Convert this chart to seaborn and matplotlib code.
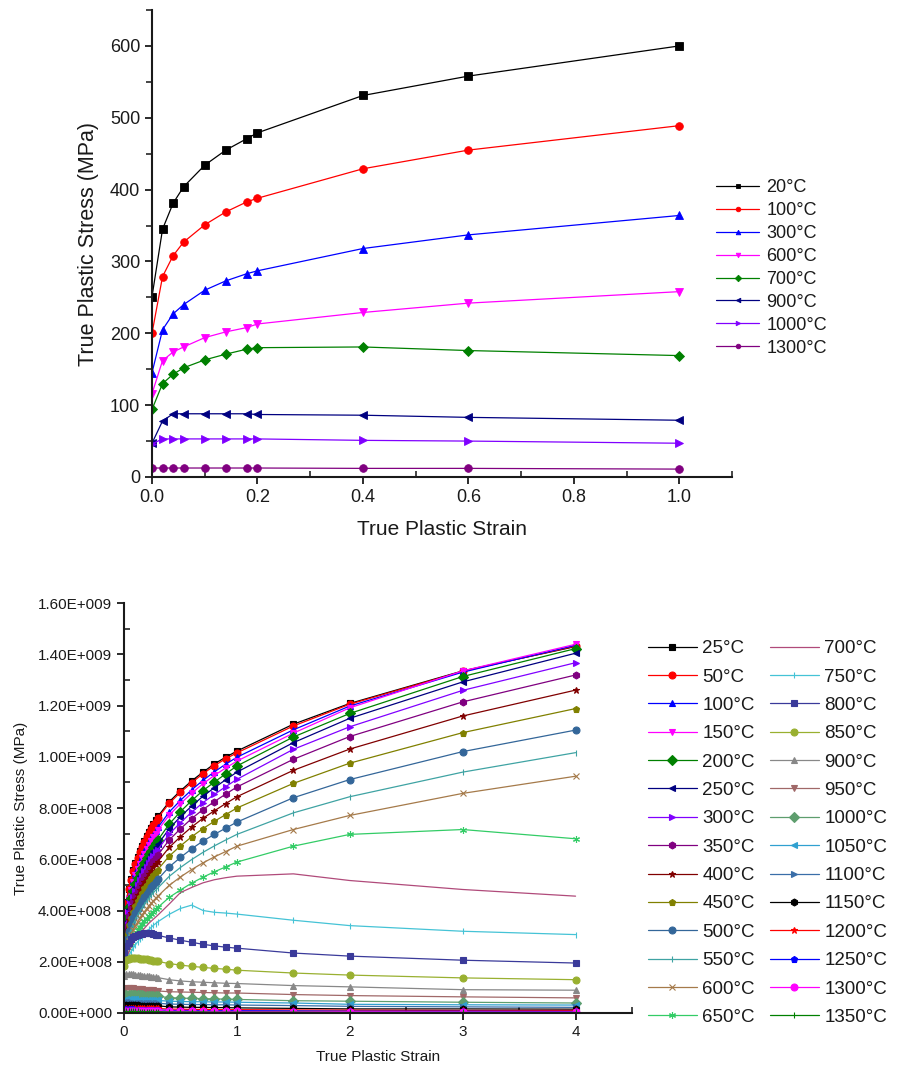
import numpy as np
import pandas as pd
import matplotlib
matplotlib.use("Agg")
import matplotlib.pyplot as plt
import seaborn as sns
from matplotlib.ticker import MultipleLocator, FuncFormatter, FormatStrFormatter

sns.set_theme(style="ticks")
plt.rcParams['font.family'] = ['Liberation Sans', 'DejaVu Sans']

# ---------------- top chart data ----------------
strain_top = [0, 0.02, 0.04, 0.06, 0.1, 0.14, 0.18, 0.2, 0.4, 0.6, 1.0]
labels_top = ["20°C", "100°C", "300°C", "600°C", "700°C", "900°C", "1000°C", "1300°C"]
t20 = [251, 345, 381, 404, 434, 455, 471, 479, 531, 558, 600]
t100 = [200, 279, 308, 327, 351, 369, 383, 388, 429, 455, 489]
t300 = [145, 205, 227, 240, 260, 273, 283, 287, 318, 337, 364]
t600 = [116, 162, 174, 181, 194, 202, 208, 213, 229, 242, 258]
t700 = [94, 130, 143, 152, 163, 171, 178, 180, 181, 176, 169]
t900 = [47, 78, 88, 88, 88, 88, 88, 87, 86, 83, 79]
t1000 = [46, 53, 53, 53, 53, 53, 53, 53, 51, 50, 47]
t1300 = [12.5, 12.5, 12.5, 12.5, 12.5, 12.5, 12.5, 12.5, 12, 12, 11]
colors_top = ["#000000", "#FF0000", "#0000FF", "#FF00FF", "#008000", "#000080", "#8000FF", "#800080"]
markers_top = ["s", "o", "^", "v", "D", "<", ">", "o"]

# ---------------- bottom chart data (stress in 1e8) ----------------
strain_bot = [0, 0.02, 0.04, 0.06, 0.08, 0.1, 0.12, 0.14, 0.16, 0.18, 0.2, 0.22, 0.24, 0.26,
              0.28, 0.3, 0.4, 0.5, 0.6, 0.7, 0.8, 0.9, 1.0, 1.5, 2, 3, 4]
labels_bot = ["25°C", "50°C", "100°C", "150°C", "200°C", "250°C", "300°C", "350°C", "400°C",
              "450°C", "500°C", "550°C", "600°C", "650°C", "700°C", "750°C", "800°C", "850°C",
              "900°C", "950°C", "1000°C", "1050°C", "1100°C", "1150°C", "1200°C", "1250°C",
              "1300°C", "1350°C"]
b25 = [3.58,4.34,4.85,5.23,5.57,5.85,6.10,6.33,6.53,6.71,6.90,7.07,7.23,7.38,7.52,7.67,8.24,8.67,9.06,9.40,9.72,9.98,10.22,11.27,12.08,13.35,14.30]
b50 = [3.55,4.31,4.82,5.20,5.53,5.81,6.06,6.28,6.49,6.67,6.85,7.02,7.18,7.33,7.47,7.61,8.18,8.61,8.99,9.34,9.65,9.92,10.15,11.20,12.05,13.33,14.32]
b100 = [3.34,4.02,4.52,4.88,5.19,5.46,5.70,5.92,6.12,6.31,6.49,6.66,6.81,6.96,7.10,7.24,7.84,8.30,8.71,9.08,9.41,9.71,9.98,11.05,11.98,13.30,14.35]
b150 = [3.29,3.96,4.45,4.80,5.11,5.38,5.62,5.83,6.03,6.21,6.39,6.56,6.71,6.86,6.99,7.13,7.72,8.17,8.58,8.95,9.27,9.56,9.83,10.92,11.91,13.35,14.39]
b200 = [3.08,3.66,4.15,4.48,4.77,5.03,5.26,5.48,5.67,5.85,6.03,6.19,6.34,6.49,6.62,6.75,7.37,7.86,8.29,8.68,9.01,9.33,9.64,10.77,11.69,13.13,14.22]
b250 = [3.01,3.57,4.04,4.37,4.65,4.91,5.13,5.34,5.53,5.71,5.88,6.03,6.19,6.33,6.46,6.58,7.19,7.66,8.08,8.46,8.79,9.10,9.40,10.55,11.50,12.92,14.04]
b300 = [2.92,3.47,3.92,4.24,4.51,4.76,4.98,5.18,5.36,5.54,5.70,5.85,6.00,6.14,6.27,6.38,6.98,7.43,7.84,8.21,8.53,8.83,9.12,10.29,11.17,12.59,13.67]
b350 = [2.82,3.35,3.79,4.10,4.37,4.60,4.82,5.01,5.19,5.35,5.51,5.66,5.80,5.94,6.06,6.17,6.75,7.19,7.59,7.94,8.25,8.54,8.82,9.90,10.79,12.14,13.19]
b400 = [2.70,3.21,3.63,3.92,4.18,4.41,4.61,4.79,4.96,5.12,5.28,5.42,5.55,5.68,5.80,5.91,6.46,6.88,7.26,7.60,7.89,8.17,8.44,9.47,10.30,11.59,12.60]
b450 = [2.56,3.04,3.44,3.72,3.96,4.18,4.37,4.54,4.70,4.86,5.00,5.14,5.26,5.38,5.50,5.60,6.12,6.52,6.88,7.20,7.48,7.74,8.00,8.96,9.75,10.94,11.88]
b500 = [2.38,2.83,3.20,3.46,3.69,3.89,4.07,4.23,4.38,4.52,4.66,4.78,4.90,5.01,5.12,5.22,5.70,6.07,6.41,6.71,6.97,7.21,7.45,8.40,9.11,10.20,11.04]
b550 = [2.23,2.65,3.00,3.24,3.45,3.64,3.81,3.96,4.10,4.23,4.36,4.47,4.59,4.69,4.79,4.88,5.33,5.68,5.99,6.27,6.52,6.75,6.97,7.81,8.44,9.40,10.16]
b600 = [2.08,2.47,2.80,3.03,3.22,3.40,3.55,3.70,3.83,3.95,4.07,4.18,4.28,4.38,4.47,4.56,4.98,5.31,5.60,5.86,6.09,6.30,6.51,7.16,7.71,8.57,9.24]
b650 = [1.88,2.24,2.53,2.74,2.92,3.07,3.22,3.35,3.46,3.58,3.68,3.78,3.88,3.96,4.05,4.12,4.51,4.80,5.07,5.30,5.51,5.70,5.89,6.51,6.97,7.16,6.80]
b700 = [1.80,2.10,2.35,2.55,2.70,2.85,2.98,3.10,3.20,3.30,3.40,3.50,3.58,3.66,3.74,3.82,4.25,4.70,4.90,5.08,5.20,5.28,5.34,5.43,5.17,4.82,4.56]
b750 = [1.70,2.00,2.20,2.38,2.52,2.65,2.77,2.88,2.98,3.08,3.17,3.26,3.34,3.42,3.49,3.56,3.85,4.08,4.21,4.00,3.93,3.90,3.86,3.62,3.41,3.19,3.06]
b800 = [2.35,2.60,2.75,2.87,2.95,3.00,3.05,3.08,3.10,3.11,3.12,3.12,3.11,3.09,3.06,3.03,2.93,2.84,2.76,2.68,2.62,2.57,2.53,2.34,2.22,2.06,1.95]
b850 = [1.85,2.05,2.12,2.15,2.15,2.14,2.13,2.12,2.11,2.10,2.09,2.07,2.06,2.04,2.03,2.01,1.93,1.87,1.82,1.78,1.74,1.71,1.67,1.56,1.48,1.37,1.30]
b900 = [1.45,1.52,1.53,1.52,1.51,1.50,1.49,1.48,1.46,1.45,1.44,1.43,1.42,1.41,1.40,1.38,1.30,1.25,1.22,1.20,1.18,1.16,1.15,1.07,1.02,0.91,0.89]
b950 = [0.95,0.98,0.98,0.97,0.96,0.95,0.94,0.93,0.92,0.91,0.90,0.89,0.88,0.88,0.87,0.86,0.83,0.82,0.81,0.80,0.79,0.78,0.78,0.72,0.68,0.63,0.59]
b1000 = [0.70,0.72,0.72,0.71,0.71,0.70,0.70,0.69,0.69,0.68,0.68,0.67,0.67,0.66,0.66,0.65,0.60,0.58,0.57,0.56,0.55,0.54,0.53,0.48,0.46,0.42,0.39]
b1050 = [0.52,0.54,0.54,0.53,0.53,0.53,0.52,0.52,0.52,0.51,0.51,0.51,0.50,0.50,0.49,0.49,0.46,0.45,0.44,0.44,0.43,0.43,0.42,0.39,0.34,0.32,0.31]
b1100 = [0.40,0.41,0.41,0.41,0.40,0.40,0.40,0.40,0.39,0.39,0.39,0.39,0.38,0.38,0.38,0.38,0.35,0.34,0.33,0.33,0.32,0.32,0.31,0.29,0.26,0.24,0.22]
b1150 = [0.30,0.31,0.31,0.30,0.30,0.30,0.30,0.29,0.29,0.29,0.29,0.29,0.28,0.28,0.28,0.28,0.24,0.23,0.22,0.22,0.21,0.21,0.20,0.18,0.16,0.16,0.15]
b1200 = [0.20,0.21,0.21,0.20,0.20,0.20,0.20,0.19,0.19,0.19,0.19,0.19,0.18,0.18,0.18,0.18,0.15,0.15,0.14,0.14,0.13,0.13,0.13,0.12,0.11,0.10,0.10]
b1250 = [0.14,0.14,0.14,0.14,0.14,0.13,0.13,0.13,0.13,0.13,0.13,0.12,0.12,0.12,0.12,0.12,0.10,0.10,0.10,0.09,0.09,0.09,0.09,0.08,0.07,0.07,0.06]
b1300 = [0.09,0.09,0.09,0.09,0.09,0.09,0.09,0.08,0.08,0.08,0.08,0.08,0.08,0.08,0.08,0.08,0.07,0.07,0.07,0.06,0.06,0.06,0.06,0.05,0.05,0.04,0.04]
b1350 = [0.06,0.06,0.06,0.06,0.06,0.06,0.06,0.05,0.05,0.05,0.05,0.05,0.05,0.05,0.05,0.05,0.04,0.04,0.04,0.04,0.03,0.03,0.03,0.03,0.02,0.02,0.02]
colors_bot = ["#000000", "#FF0000", "#0000FF", "#FF00FF", "#008000", "#000080", "#8000FF", "#800080",
              "#800000", "#808000", "#336699", "#3FA3A3", "#A57A4A", "#33CC66", "#B04A7A", "#45C3D6",
              "#3A3A9A", "#99B030", "#888888", "#A06868", "#5E9E6E", "#30A0D0", "#3A6EA8",
              "#000000", "#FF0000", "#0000FF", "#FF00FF", "#008000"]
ASTER = (6, 2, 0)
markers_bot = ["s", "o", "^", "v", "D", "<", ">", "h", "*", "p", "o", "|", "x", ASTER, None, "|",
               "s", "o", "^", "v", "D", "<", ">", "h", "*", "p", "o", "|"]

series_top = [t20, t100, t300, t600, t700, t900, t1000, t1300]
series_bot = [b25, b50, b100, b150, b200, b250, b300, b350, b400, b450, b500, b550, b600, b650,
              b700, b750, b800, b850, b900, b950, b1000, b1050, b1100, b1150, b1200, b1250,
              b1300, b1350]

TXT = "#1a1a1a"
fig = plt.figure(figsize=(9.01, 10.68), dpi=100)
ax1 = fig.add_axes([152/901, 1-477/1068, 580/901, 467/1068])
ax2 = fig.add_axes([124/901, 1-1013/1068, 508/901, 410/1068])

# ---- top ----
for lab, ys, c, m in zip(labels_top, series_top, colors_top, markers_top):
    df = pd.DataFrame({"strain": strain_top, "stress": ys})
    sns.lineplot(data=df, x="strain", y="stress", ax=ax1, color=c, marker=m, markersize=5.5,
                 markeredgecolor=c, markeredgewidth=0.6, linewidth=0.9, label=lab,
                 estimator=None, sort=False)
ax1.set_xlim(0, 1.1)
ax1.set_ylim(0, 650)
ax1.xaxis.set_major_locator(MultipleLocator(0.2))
ax1.xaxis.set_minor_locator(MultipleLocator(0.1))
ax1.xaxis.set_major_formatter(FormatStrFormatter('%.1f'))
ax1.yaxis.set_major_locator(MultipleLocator(100))
ax1.yaxis.set_minor_locator(MultipleLocator(50))
ax1.set_xlabel("True Plastic Strain", fontsize=15, color=TXT, labelpad=10)
ax1.set_ylabel("True Plastic Stress (MPa)", fontsize=15.5, color=TXT, labelpad=8)
ax1.tick_params(which="major", direction="out", length=5, width=1.3, labelsize=13, colors=TXT)
ax1.tick_params(axis="y", which="minor", direction="out", length=4, width=1.2)
ax1.tick_params(axis="x", which="minor", direction="in", length=4, width=1.2)
for s in ["top", "right"]:
    ax1.spines[s].set_visible(False)
for s in ["left", "bottom"]:
    ax1.spines[s].set_linewidth(1.5)
    ax1.spines[s].set_color(TXT)
h, l = ax1.get_legend_handles_labels()
ax1.legend(h, l, loc="upper left", bbox_to_anchor=(716/901, 1-179/1068),
           bbox_transform=fig.transFigure, frameon=False, fontsize=13, handlelength=2.4,
           markerscale=0.6, labelspacing=0.33, handletextpad=0.4, borderaxespad=0, borderpad=0,
           labelcolor=TXT)

# ---- bottom ----
for lab, ys, c, m in zip(labels_bot, series_bot, colors_bot, markers_bot):
    df = pd.DataFrame({"strain": strain_bot, "stress": np.array(ys) * 1e8})
    kw = dict(marker=m, markersize=5, markeredgecolor=c, markeredgewidth=0.8) if m is not None else dict(marker=None)
    sns.lineplot(data=df, x="strain", y="stress", ax=ax2, color=c, linewidth=0.9, label=lab,
                 estimator=None, sort=False, **kw)

def sci(v, pos):
    if v == 0:
        return "0.00E+000"
    e = int(np.floor(np.log10(abs(v)) + 1e-9))
    return f"{v / 10**e:.2f}E+{e:03d}"

ax2.set_xlim(0, 4.5)
ax2.set_ylim(0, 1.6e9)
ax2.xaxis.set_major_locator(MultipleLocator(1))
ax2.xaxis.set_minor_locator(MultipleLocator(0.5))
ax2.yaxis.set_major_locator(MultipleLocator(2e8))
ax2.yaxis.set_minor_locator(MultipleLocator(1e8))
ax2.yaxis.set_major_formatter(FuncFormatter(sci))
ax2.set_xlabel("True Plastic Strain", fontsize=11, color=TXT, labelpad=8)
ax2.set_ylabel("True Plastic Stress (MPa)", fontsize=11, color=TXT, labelpad=7)
ax2.tick_params(which="major", direction="out", length=5, width=1.3, labelsize=11, colors=TXT)
ax2.tick_params(which="minor", direction="in", length=4, width=1.2)
for s in ["top", "right"]:
    ax2.spines[s].set_visible(False)
for s in ["left", "bottom"]:
    ax2.spines[s].set_linewidth(1.5)
    ax2.spines[s].set_color(TXT)
h, l = ax2.get_legend_handles_labels()
ax2.legend(h, l, loc="upper left", bbox_to_anchor=(648/901, 1-640/1068),
           bbox_transform=fig.transFigure, frameon=False, fontsize=13.5, ncol=2,
           handlelength=2.6, markerscale=1.0, labelspacing=0.6, handletextpad=0.3,
           columnspacing=0.8, borderaxespad=0, borderpad=0, labelcolor=TXT)

fig.savefig("out.png", dpi=100)
